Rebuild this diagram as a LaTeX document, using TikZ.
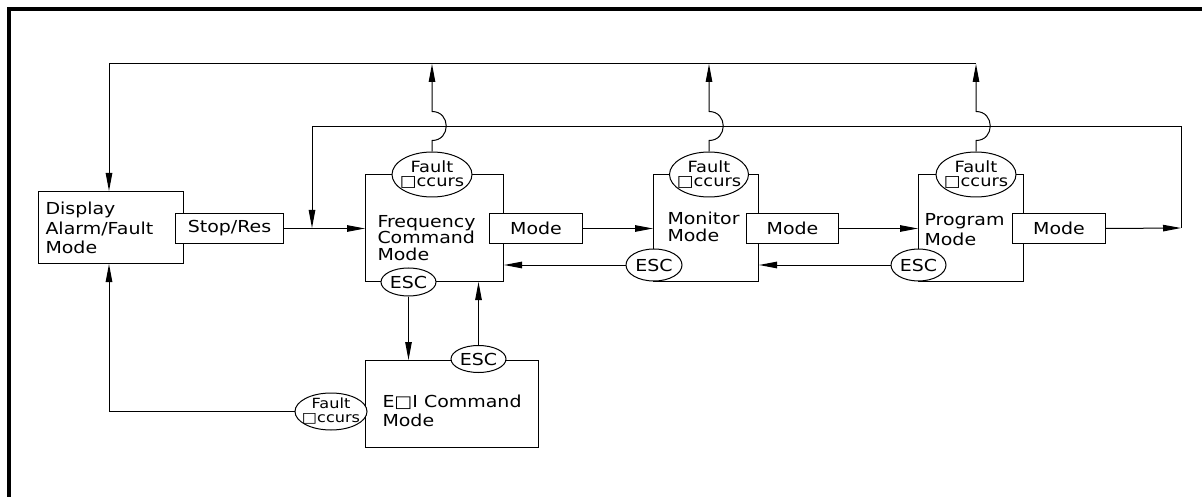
\documentclass[tikz,border=0pt]{standalone}
\usepackage{fontspec}
\setmainfont{DejaVu Sans}[FakeStretch=1.15]
\usetikzlibrary{shapes.geometric,arrows.meta}
\begin{document}
\begin{tikzpicture}[x=1pt,y=-1pt,line width=1pt,
  arr/.style={-{Triangle[length=18pt,width=6.5pt]}},
  box/.style={draw,fill=white,rectangle,inner sep=0pt,anchor=north west},
  modebox/.style={draw,fill=white,rectangle,inner sep=0pt,anchor=north west,
     minimum height=30pt,font=\fontsize{16.5}{16.5}\selectfont},
  oval/.style={draw,fill=white,ellipse,inner sep=-12pt,align=center,
     font=\fontsize{15.5}{14.5}\selectfont},
  txt/.style={inner sep=0pt,anchor=north west,align=left}]
\useasboundingbox (0,0) rectangle (1202,497);
% outer frame
\draw[line width=3.5pt] (9,497) -- (9,9) -- (1202,9);
% main boxes
\node[box,minimum width=145pt,minimum height=72pt] (disp) at (38,191) {};
\node[box,minimum width=138pt,minimum height=107pt] (freq) at (365,174) {};
\node[box,minimum width=105pt,minimum height=107pt] (mon) at (653,174) {};
\node[box,minimum width=105pt,minimum height=107pt] (prog) at (918,174) {};
\node[box,minimum width=173pt,minimum height=87pt] (eoi) at (365,360) {};
% texts
\node[txt,font=\fontsize{16.5}{19.7}\selectfont] (disptxt) at (45,201.5) {Display\\Alarm/Fault\\Mode};
\node[txt,font=\fontsize{16.5}{16.4}\selectfont] (freqtxt) at (377,215) {Frequency\\Command\\Mode};
\node[txt,font=\fontsize{16.5}{17.7}\selectfont] (montxt) at (667,211) {Monitor\\Mode};
\node[txt,font=\fontsize{16.5}{20}\selectfont] (progtxt) at (924,212.5) {Program\\Mode};
\node[txt,font=\fontsize{16.5}{19.3}\selectfont] (eoitxt) at (382,394.3) {E□I Command\\Mode};
% side boxes
\node[modebox,minimum width=108pt] (stop) at (175,213) {Stop/Res};
\node[modebox,minimum width=93pt] (fmode) at (489,213) {Mode};
\node[modebox,minimum width=92pt] (mmode) at (746,213) {Mode};
\node[modebox,minimum width=93pt] (pmode) at (1012,213) {Mode};
% ovals
\node[oval,minimum width=80pt,minimum height=45pt] (ffault) at (432,174.5) {Fault\\□ccurs};
\node[oval,minimum width=79pt,minimum height=45pt] (mfault) at (709,174.5) {Fault\\□ccurs};
\node[oval,minimum width=80pt,minimum height=45pt] (pfault) at (976,174.5) {Fault\\□ccurs};
\node[oval,minimum width=72pt,minimum height=37pt,font=\fontsize{14}{14}\selectfont] (efault) at (331,411.5) {Fault\\□ccurs};
\node[oval,minimum width=55pt,minimum height=28pt,font=\fontsize{16.5}{16}\selectfont] (fesc) at (408.5,282) {ESC};
\node[oval,minimum width=56pt,minimum height=32pt,font=\fontsize{16.5}{16}\selectfont] (mesc) at (654,265) {ESC};
\node[oval,minimum width=55pt,minimum height=32pt,font=\fontsize{16.5}{16}\selectfont] (pesc) at (918.5,265) {ESC};
\node[oval,minimum width=55pt,minimum height=27pt,font=\fontsize{16.5}{16}\selectfont] (eesc) at (478.5,359) {ESC};
% coordinates
\coordinate (j1) at (312,228);
\coordinate (rc) at (1181,228);
\coordinate (rt) at (1181,127);
\coordinate (lt) at (312,127);
\coordinate (tl) at (109,64);
\coordinate (tr) at (976,64);
\coordinate (bl) at (109,411.5);
% connectors
\draw[arr] (stop.east) -- (stop.east -| freq.west);
\draw[arr] (fmode.east) -- (fmode.east -| mon.west);
\draw[arr] (mmode.east) -- (mmode.east -| prog.west);
\draw[arr] (pmode.east) -- (rc);
\draw (rc) -- (rt) -- (lt);
\draw[arr] (lt) -- (j1);
\draw[arr] (mesc.west) -- (mesc.west -| freq.east);
\draw[arr] (pesc.west) -- (pesc.west -| mon.east);
\draw[arr] (fesc.south) -- (fesc.south |- eoi.north);
\draw[arr] (eesc.north) -- (eesc.north |- freq.south);
\draw (efault.west) -- (bl);
\draw[arr] (bl) -- (bl |- disp.south);
\draw (tr) -- (tl);
\draw[arr] (tl) -- (tl |- disp.north);
\foreach \f in {ffault,mfault,pfault}{
  \draw[arr] (\f.north) -- ++(0,-11) .. controls +(19,0) and +(19,0) .. ++(0,-29) -- (\f.north |- tl);
}
\end{tikzpicture}
\end{document}
